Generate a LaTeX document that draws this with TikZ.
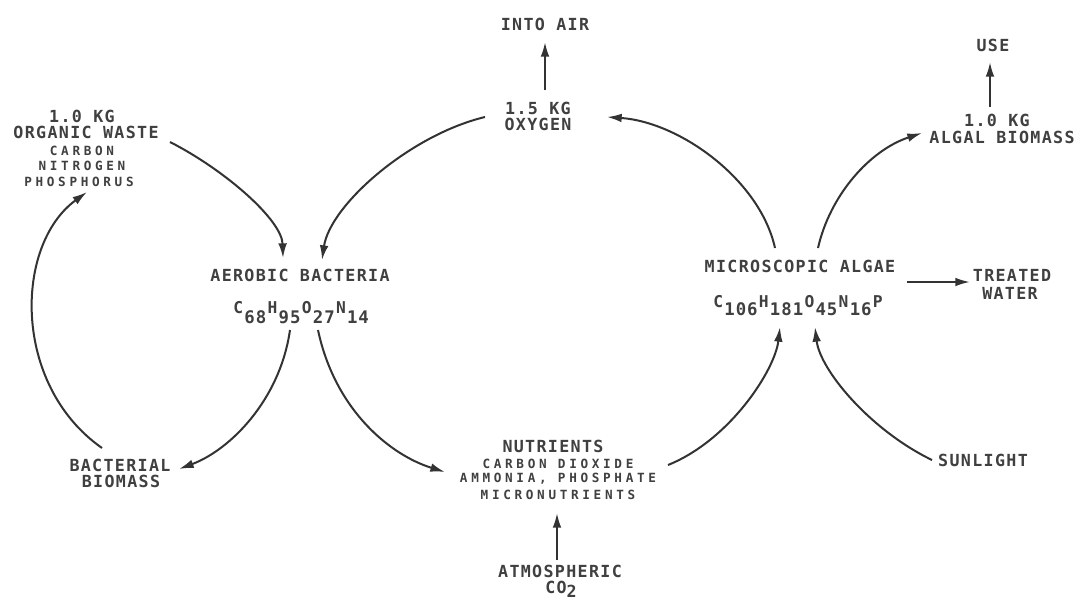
\documentclass[tikz,border=0pt]{standalone}
\usepackage{fontspec}
\usetikzlibrary{arrows.meta}
\newfontfamily\mainf{DejaVu Sans Mono}[LetterSpace=8]
\newfontfamily\smallf{DejaVu Sans Mono}[LetterSpace=29]
\newfontfamily\plainf{DejaVu Sans Mono}
\newcommand\fl[2]{\makebox[8.55pt]{\raisebox{#1}{\fontsize{12.2pt}{13pt}\selectfont #2}}}
\newcommand\fd[1]{\makebox[8.55pt]{#1}}
\begin{document}
\begin{tikzpicture}[x=0.75pt,y=-0.75pt,
 big/.style={font=\mainf\bfseries\fontsize{12.5pt}{13pt}\selectfont, inner sep=0pt, text height=9.1pt, text depth=0pt, text=black!75},
 sml/.style={font=\smallf\bfseries\fontsize{9.5pt}{10pt}\selectfont, inner sep=0pt, text height=6.9pt, text depth=0pt, text=black!75},
 frm/.style={font=\plainf\bfseries\fontsize{13pt}{14pt}\selectfont, inner sep=0pt, anchor=base, text=black!75},
 conn/.style={draw=black!80, line width=1.5pt, -{Latex[length=11pt,width=6.5pt]}}]
\fill[white] (0,0) rectangle (1079,601);
\path[use as bounding box] (0,0) rectangle (1079,601);
% organic waste
\node[big] (w1) at (82,116) {1.0 KG};
\node[big] (w2) at (86,132) {ORGANIC WASTE};
\node[sml] (w3) at (82,150.5) {CARBON};
\node[sml] (w4) at (82,166) {NITROGEN};
\node[sml] (w5) at (79,182) {PHOSPHORUS};
% oxygen
\node[big] (air) at (545,24.5) {INTO AIR};
\node[big] (o1) at (538,108) {1.5 KG};
\node[big] (o2) at (538,124) {OXYGEN};
% algal biomass
\node[big] (use) at (993,45) {USE};
\node[big] (a1) at (997,120.5) {1.0 KG};
\node[big] (a2) at (1002,137) {ALGAL BIOMASS};
% bacteria
\node[big] (bactL) at (300,275) {AEROBIC BACTERIA};
\node[frm] (bactF) at (301,323) {\fl{7pt}{C}\fd{6}\fd{8}\fl{7pt}{H}\fd{9}\fd{5}\fl{7pt}{O}\fd{2}\fd{7}\fl{7pt}{N}\fd{1}\fd{4}};
% algae
\node[big] (algL) at (800,266) {MICROSCOPIC ALGAE};
\node[frm] (algF) at (798,315) {\fl{6pt}{C}\fd{1}\fd{0}\fd{6}\fl{6pt}{H}\fd{1}\fd{8}\fd{1}\fl{6pt}{O}\fd{4}\fd{5}\fl{6pt}{N}\fd{1}\fd{6}\fl{6pt}{P}};
\node[big] (tw1) at (1012,275) {TREATED};
\node[big] (tw2) at (1010,293) {WATER};
% nutrients
\node[big] (nut1) at (553,446) {NUTRIENTS};
\node[sml] (nut2) at (558,464) {CARBON DIOXIDE};
\node[sml] (nut3) at (558,478) {AMMONIA, PHOSPHATE};
\node[sml] (nut4) at (558,495) {MICRONUTRIENTS};
\node[big] (atm1) at (560,571) {ATMOSPHERIC};
\node[big] (atm2) at (561,587.5) {CO\raisebox{-3pt}{2}};
% bacterial biomass, sunlight
\node[big] (bb1) at (120,465) {BACTERIAL};
\node[big] (bb2) at (121,481.5) {BIOMASS};
\node[big] (sun) at (983,460) {SUNLIGHT};
% curved connectors
\draw[conn] ([shift={(84,10)}]w2.center) .. controls (225,170) and (282,220) .. ([shift={(-17,-17)}]bactL.center);
\draw[conn] ([shift={(-53,-7)}]o2.center) .. controls (410,135) and (330,205) .. ([shift={(22,-15)}]bactL.center);
\draw[conn] ([shift={(-25,-18)}]algL.center) .. controls (760,180) and (680,122) .. ([shift={(69,-7)}]o2.center);
\draw[conn] ([shift={(18,-18)}]algL.center) .. controls (830,195) and (870,150) .. ([shift={(-80,-4)}]a2.center);
\draw[conn] ([shift={(-18,-17)}]bb1.center) .. controls (12,385) and (14,245) .. ([shift={(8,10)}]w5.center);
\draw[conn] ([shift={(-11,7)}]bactF.base) .. controls (280,400) and (230,450) .. ([shift={(59,4)}]bb1.center);
\draw[conn] ([shift={(17,7)}]bactF.base) .. controls (335,410) and (390,455) .. ([shift={(-113,-6)}]nut3.center);
\draw[conn] ([shift={(110,1)}]nut2.center) .. controls (730,440) and (775,370) .. ([shift={(-18,12)}]algF.base);
\draw[conn] ([shift={(-51,0)}]sun.center) .. controls (870,430) and (820,370) .. ([shift={(17,12)}]algF.base);
% straight connectors
\draw[conn] ([shift={(-7,-13.5)}]a1.center) -- ([shift={(-3,17)}]use.center);
\draw[conn] ([shift={(7,-18)}]o1.center) -- ([shift={(0,17.5)}]air.center);
\draw[conn] ([shift={(107,16)}]algL.center) -- ([shift={(-42,7)}]tw1.center);
\draw[conn] ([shift={(-3,-11)}]atm1.center) -- ([shift={(-1,18)}]nut4.center);
\end{tikzpicture}
\end{document}
